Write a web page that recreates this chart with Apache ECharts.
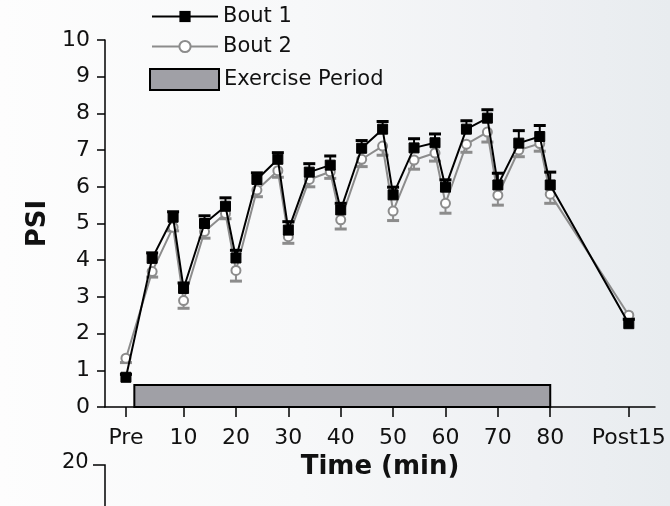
<!DOCTYPE html>
<html>
<head>
<meta charset="utf-8">
<script src="https://cdn.jsdelivr.net/npm/echarts@6/dist/echarts.min.js"></script>
<style>
  html, body { margin: 0; padding: 0; }
  #chart {
    width: 670px; height: 506px;
    background: linear-gradient(to right, #fdfdfd 0%, #f7f8f9 45%, #eef0f3 80%, #e8ecef 100%);
  }
</style>
</head>
<body>
<div id="chart"></div>
<script>
// Sampling times in minutes (Pre = -1, Post15 = 95)
const times = [-1, 4, 8, 10, 14, 18, 20, 24, 28, 30, 34, 38, 40, 44, 48, 50, 54, 58, 60, 64, 68, 70, 74, 78, 80, 95];

// Physiological strain index, mean and SEM per bout
const bout1 = [0.81, 4.05, 5.17, 3.23, 5.0, 5.47, 4.06, 6.2, 6.75, 4.82, 6.4, 6.59, 5.37, 7.05, 7.57, 5.78, 7.06, 7.2, 5.99, 7.57, 7.87, 6.05, 7.19, 7.37, 6.05, 2.27];
const bout1Err = [0.08, 0.15, 0.15, 0.15, 0.21, 0.23, 0.21, 0.18, 0.18, 0.23, 0.23, 0.25, 0.18, 0.21, 0.21, 0.21, 0.25, 0.24, 0.2, 0.23, 0.23, 0.32, 0.34, 0.3, 0.35, 0.12];
const bout2 = [1.33, 3.69, 4.9, 2.9, 4.78, 5.27, 3.72, 5.91, 6.44, 4.64, 6.2, 6.41, 5.1, 6.75, 7.11, 5.34, 6.73, 6.92, 5.55, 7.16, 7.49, 5.77, 7.0, 7.18, 5.8, 2.5];
const bout2Err = [0.12, 0.15, 0.1, 0.21, 0.18, 0.14, 0.29, 0.18, 0.18, 0.18, 0.2, 0.18, 0.25, 0.2, 0.25, 0.26, 0.25, 0.22, 0.27, 0.22, 0.27, 0.27, 0.18, 0.21, 0.25, 0.1];

// Exercise period: [start, end, bar height]
const exercisePeriod = [0.6, 80, 0.6];

// Axis ticks
const xTickValues = [-1, 10, 20, 30, 40, 50, 60, 70, 80, 95];
const xTickLabels = ['Pre', '10', '20', '30', '40', '50', '60', '70', '80', 'Post15'];

const FONT = '"DejaVu Sans", "Liberation Sans", Arial, sans-serif';
const chart = echarts.init(document.getElementById('chart'), null, { renderer: 'canvas' });

const pairs = (ys) => times.map((t, i) => [t, ys[i]]);
const triples = (ys, es) => times.map((t, i) => [t, ys[i], es[i]]);

function errorBar(color, dir) {
  return function (params, api) {
    const x = api.value(0), y = api.value(1), e = api.value(2);
    const p0 = api.coord([x, y]);
    const p1 = api.coord([x, y + dir * e]);
    return {
      type: 'group',
      children: [
        { type: 'line', shape: { x1: p0[0], y1: p0[1], x2: p1[0], y2: p1[1] }, style: { stroke: color, lineWidth: 2 } },
        { type: 'line', shape: { x1: p1[0] - 6, y1: p1[1], x2: p1[0] + 6, y2: p1[1] }, style: { stroke: color, lineWidth: 3 } }
      ]
    };
  };
}

const option = {
  animation: false,
  textStyle: { fontFamily: FONT },
  grid: { left: 105, right: 15, top: 40, bottom: 99, containLabel: false },
  legend: [
    {
      data: ['Bout 1', 'Bout 2'],
      orient: 'vertical', left: 151, top: 5, padding: 0,
      itemWidth: 66, itemHeight: 14, itemGap: 7,
      textStyle: { fontSize: 21, color: '#111', fontFamily: FONT, lineHeight: 23 }
    },
    {
      data: [{ name: 'Exercise Period', icon: 'rect', itemStyle: { color: '#a0a0a6', borderColor: '#000', borderWidth: 2 } }],
      orient: 'vertical', left: 149, top: 68, padding: 0,
      itemWidth: 69, itemHeight: 21,
      textStyle: { fontSize: 21, color: '#111', fontFamily: FONT }
    }
  ],
  xAxis: {
    type: 'value', min: -5, max: 100,
    name: 'Time (min)', nameLocation: 'middle', nameGap: 45,
    nameTextStyle: { fontSize: 26, fontWeight: 'bold', color: '#111', fontFamily: FONT },
    splitLine: { show: false },
    axisLine: { onZero: false, lineStyle: { color: '#000', width: 1.5 } },
    axisTick: { customValues: xTickValues, length: 10, lineStyle: { color: '#000', width: 1.5 } },
    axisLabel: {
      customValues: xTickValues, margin: 20, fontSize: 22, color: '#111', fontFamily: FONT,
      formatter: (v) => xTickLabels[xTickValues.indexOf(v)]
    }
  },
  yAxis: {
    type: 'value', min: 0, max: 10, interval: 1,
    name: 'PSI', nameLocation: 'middle', nameGap: 53, nameRotate: 90,
    nameTextStyle: { fontSize: 26, fontWeight: 'bold', color: '#111', fontFamily: FONT },
    splitLine: { show: false },
    axisLine: { show: true, onZero: false, lineStyle: { color: '#000', width: 1.5 } },
    axisTick: { show: true, length: 8, lineStyle: { color: '#000', width: 1.5 } },
    axisLabel: { margin: 15, fontSize: 22, color: '#111', fontFamily: FONT }
  },
  series: [
    {
      name: 'Exercise Period', type: 'custom', z: 1,
      itemStyle: { color: '#a0a0a6', borderColor: '#000', borderWidth: 2 },
      encode: { x: [0, 1], y: 2 },
      data: [exercisePeriod],
      renderItem: function (params, api) {
        const a = api.coord([api.value(0), api.value(2)]);
        const b = api.coord([api.value(1), 0]);
        return {
          type: 'rect',
          shape: { x: a[0], y: a[1], width: b[0] - a[0], height: b[1] - a[1] },
          style: { fill: '#a0a0a6', stroke: '#000', lineWidth: 2 }
        };
      }
    },
    {
      name: 'Bout 2 SEM', type: 'custom', z: 2,
      encode: { x: 0, y: 1 },
      data: triples(bout2, bout2Err),
      renderItem: errorBar('#8c8c8c', -1)
    },
    {
      name: 'Bout 2', type: 'line', z: 3,
      data: pairs(bout2),
      symbol: 'circle', symbolSize: 9,
      lineStyle: { color: '#8c8c8c', width: 2 },
      itemStyle: { color: '#ffffff', borderColor: '#8c8c8c', borderWidth: 2 }
    },
    {
      name: 'Bout 1 SEM', type: 'custom', z: 4,
      encode: { x: 0, y: 1 },
      data: triples(bout1, bout1Err),
      renderItem: errorBar('#000000', 1)
    },
    {
      name: 'Bout 1', type: 'line', z: 5,
      data: pairs(bout1),
      symbol: 'rect', symbolSize: 10,
      lineStyle: { color: '#000', width: 2 },
      itemStyle: { color: '#000', borderColor: '#000' }
    }
  ],
  graphic: [
    { type: 'text', left: 62, top: 452, style: { text: '20', fontSize: 21, fill: '#111', fontFamily: FONT } },
    { type: 'polyline', shape: { points: [[93, 465], [105, 465], [105, 510]] }, style: { stroke: '#000', lineWidth: 1.5, fill: null } }
  ]
};

chart.setOption(option);
</script>
</body>
</html>
